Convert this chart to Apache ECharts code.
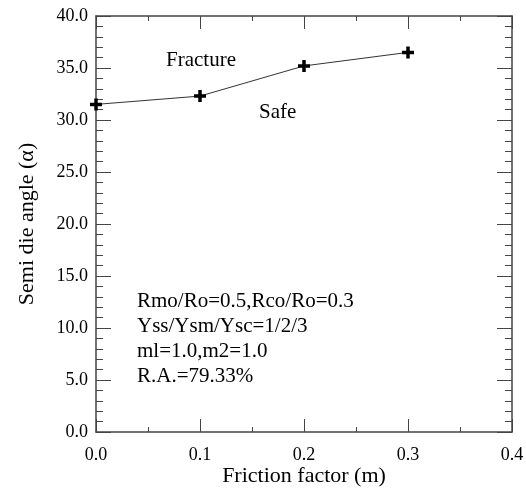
<!DOCTYPE html>
<html>
<head>
<meta charset="utf-8">
<script src="https://cdn.jsdelivr.net/npm/echarts@6/dist/echarts.min.js"></script>
<style>
  html, body { margin: 0; padding: 0; background: #fff; }
  #chart { width: 526px; height: 488px; }
</style>
</head>
<body>
<div id="chart"></div>
<script>
// friction factor vs. semi die angle limit
var frictionFactor = [0.0, 0.1, 0.2, 0.3];
var semiDieAngle = [31.5, 32.3, 35.2, 36.5];
var noteLines = ['Rmo/Ro=0.5,Rco/Ro=0.3', 'Yss/Ysm/Ysc=1/2/3', 'ml=1.0,m2=1.0', 'R.A.=79.33%'];

var serif = '"Liberation Serif", "DejaVu Serif", serif';
var axisColor = '#444';
var plus = 'path://M4.25,0H7.75V4.25H12V7.75H7.75V12H4.25V7.75H0V4.25H4.25Z';

var chart = echarts.init(document.getElementById('chart'));

function xAxisCfg(pos, showLabel) {
  return {
    type: 'value', position: pos, min: 0, max: 0.4, interval: 0.1,
    name: showLabel ? 'Friction factor (m)' : '',
    nameLocation: 'middle', nameGap: 33, nameMoveOverlap: false,
    nameTextStyle: { fontFamily: serif, fontSize: 22, color: '#000' },
    axisLine: { show: true, onZero: false, lineStyle: { color: axisColor, width: 1.5 } },
    axisTick: { show: true, inside: true, length: 13, lineStyle: { color: axisColor } },
    minorTick: { show: true, splitNumber: 2, length: 5, lineStyle: { color: axisColor } },
    axisLabel: { show: showLabel, margin: 14, fontFamily: serif, fontSize: 18, color: '#000',
      formatter: function (v) { return v.toFixed(1); } },
    splitLine: { show: false }
  };
}

function yAxisCfg(pos, showLabel) {
  return {
    type: 'value', position: pos, min: 0, max: 40, interval: 5,
    name: showLabel ? 'Semi die angle (\u03b1)' : '',
    nameLocation: 'middle', nameGap: 58, nameRotate: 90,
    nameTextStyle: { fontFamily: serif, fontSize: 22, color: '#000' },
    axisLine: { show: true, onZero: false, lineStyle: { color: axisColor, width: 1.5 } },
    axisTick: { show: true, inside: true, length: 15, lineStyle: { color: axisColor } },
    minorTick: { show: true, splitNumber: 5, length: 7, lineStyle: { color: axisColor } },
    axisLabel: { show: showLabel, margin: 8, fontFamily: serif, fontSize: 18, color: '#000',
      formatter: function (v) { return v.toFixed(1); } },
    splitLine: { show: false }
  };
}

var textStyle = { fontFamily: serif, fontSize: 21, fill: '#000' };
var graphics = [
  { type: 'text', left: 166, top: 50, style: Object.assign({ text: 'Fracture' }, textStyle) },
  { type: 'text', left: 259, top: 102, style: Object.assign({ text: 'Safe' }, textStyle) }
];
noteLines.forEach(function (t, i) {
  graphics.push({ type: 'text', left: 137, top: 291 + i * 25, style: Object.assign({ text: t }, textStyle) });
});

chart.setOption({
  animation: false,
  backgroundColor: '#fff',
  grid: { left: 96, right: 14, top: 16, bottom: 56, outerBoundsMode: 'none' },
  xAxis: [xAxisCfg('bottom', true), xAxisCfg('top', false)],
  yAxis: [yAxisCfg('left', true), yAxisCfg('right', false)],
  graphic: graphics,
  series: [{
    type: 'line',
    data: frictionFactor.map(function (x, i) { return [x, semiDieAngle[i]]; }),
    symbol: plus,
    symbolSize: 12,
    itemStyle: { color: '#000' },
    lineStyle: { color: '#333', width: 1 }
  }]
});
</script>
</body>
</html>
